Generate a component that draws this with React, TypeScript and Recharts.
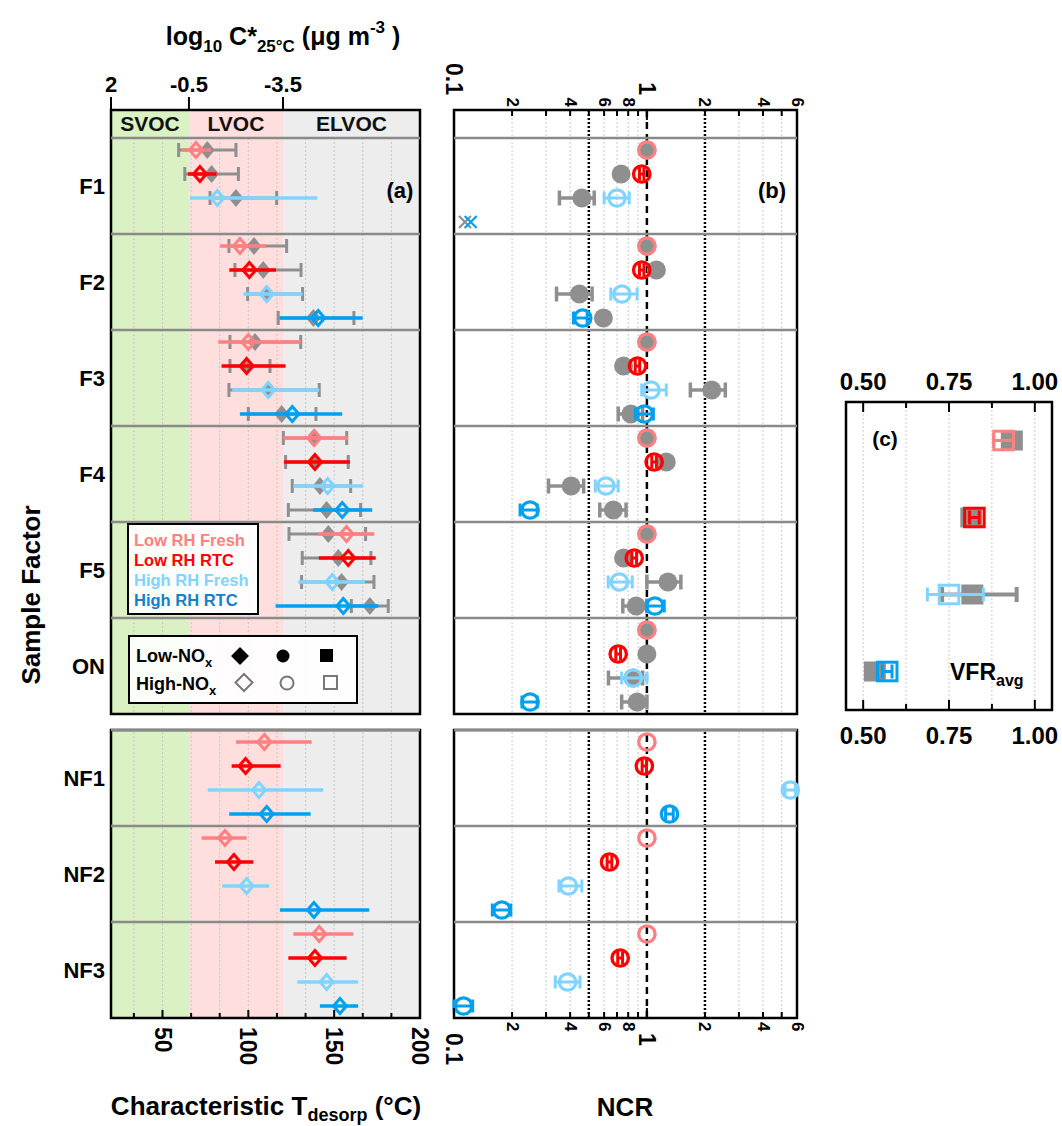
import React from 'react';
import { ComposedChart, Scatter, XAxis, YAxis, ReferenceArea, ReferenceLine, ErrorBar } from 'recharts';

const FONT = "'Liberation Sans', Arial, Helvetica, sans-serif";
const GRAY = '#8F8F8F';
const SEP = '#8A8A8A';
const GRID = '#C8C8C8';

type Trip = [number, number, number] | null; // [center, low, high]

// ---------- categories ----------
const rowLabelsTop = ['F1', 'F2', 'F3', 'F4', 'F5', 'ON'];
const rowLabelsBottom = ['NF1', 'NF2', 'NF3'];
const conditionLabels = ['Low RH Fresh', 'Low RH RTC', 'High RH Fresh', 'High RH RTC'];
const conditionColors = ['#FF8080', '#FF0000', '#80D4FF', '#00A0F0'];
const legendTextColors = ['#FF8080', '#FF0000', '#80D4FF', '#1580CC'];

// ---------- panel (a): characteristic T desorp (°C), rows F1..F5, ON, NF1..NF3 ----------
const tdLowRHFresh: Trip[] = [[69.5, 61.5, 78.2], [95.1, 83.5, 110.1], [100, 82.5, 130.5], [138.4, 120.4, 158.2], [157.2, 140.7, 173.4], null, [109.3, 92.8, 136.9], [86.4, 72.8, 99], [141.3, 126.2, 161.1]];
const tdLowRHRTC: Trip[] = [[71.8, 64.8, 81.5], [100.6, 88.9, 116.1], [99, 84.4, 121.7], [138.8, 120.8, 159.2], [158.2, 141.1, 174.2], null, [98.4, 90.3, 118.8], [91.6, 80.6, 102.9], [138.8, 123.3, 157.3]];
const tdHighRHFresh: Trip[] = [[81.9, 66, 140.2], [110.7, 97.1, 131.6], [111.6, 90.6, 141.3], [146.2, 126.2, 166.9], [148.9, 129.1, 167.9], null, [106.2, 76.3, 143.6], [99, 84.8, 112.2], [145.6, 128.5, 164]];
const tdHighRHRTC: Trip[] = [null, [140.7, 118.4, 166.6], [125.6, 95.1, 154.7], [154.7, 137.8, 172.2], [155.3, 115.9, 175.7], null, [110.7, 88.9, 136.3], [138.2, 118.4, 170.4], [153.4, 141.7, 164]];
// gray (filled) counterparts, rows F1..F5, ON
const tdGrayLowRHFresh: Trip[] = [[76.1, 59.4, 92.8], [103.3, 88.7, 122.3], [103.9, 89.3, 130.5], [138, 120.4, 157.3], [146.6, 123.7, 168.3], null];
const tdGrayLowRHRTC: Trip[] = [[78.6, 63, 94.2], [108.7, 92.2, 130.7], [99, 89.3, 112.6], [138.8, 121.7, 158.2], [152.4, 131.4, 171.4], null];
const tdGrayHighRHFresh: Trip[] = [[92.8, 77.7, 116.5], [110.7, 99.6, 131.6], [111.6, 88.7, 141.3], [141.7, 125.6, 159.6], [154.3, 131, 173.2], null];
const tdGrayHighRHRTC: Trip[] = [null, [137.9, 117.4, 161.5], [119.4, 100, 139.4], [145.6, 123.3, 165.4], [170.8, 160, 181.5], null];

const volatilityClasses = ['SVOC', 'LVOC', 'ELVOC'];
const volatilityBounds = [20, 65.4, 120.2, 200];
const volatilityFills = ['#DAF1C3', '#FFDEDE', '#EDEDED'];
const logCStarTickPos = [20, 65.4, 120.2];
const logCStarTickLabels = ['2', '-0.5', '-3.5'];
const tdGridTicks = [33.33, 50, 66.67, 83.33, 100, 116.67, 133.33, 150, 166.67, 183.33];
const tdMajorTicks = [50, 100, 150, 200];
const tdBottomTicks = [33.33, 50, 66.67, 83.33, 100, 116.67, 133.33, 150, 166.67, 183.33, 200];

// ---------- panel (b): NCR ----------
const ncrLowRHFresh: Trip[] = [[1, 1, 1], [1, 1, 1], [1, 1, 1], [1, 1, 1], [1, 1, 1], [1, 1, 1], [1, 1, 1], [1, 1, 1], [1, 1, 1]];
const ncrLowRHRTC: Trip[] = [[0.94, 0.915, 0.965], [0.94, 0.915, 0.965], [0.894, 0.87, 0.918], [1.09, 1.06, 1.12], [0.86, 0.836, 0.884], [0.71, 0.69, 0.73], [0.97, 0.945, 0.995], [0.64, 0.622, 0.658], [0.727, 0.706, 0.748]];
const ncrHighRHFresh: Trip[] = [[0.7, 0.6, 0.81], [0.742, 0.65, 0.89], [1.05, 0.94, 1.26], [0.613, 0.54, 0.71], [0.72, 0.63, 0.84], [0.85, 0.74, 1.0], [5.54, 5.2, 5.9], [0.392, 0.35, 0.46], [0.388, 0.335, 0.45]];
const ncrHighRHRTC: Trip[] = [null, [0.465, 0.416, 0.49], [0.97, 0.87, 1.08], [0.248, 0.22, 0.27], [1.1, 1.0, 1.23], [0.248, 0.225, 0.27], [1.31, 1.25, 1.37], [0.177, 0.158, 0.197], [0.112, 0.1, 0.125]];
const ncrGrayLowRHFresh: Trip[] = [[1, 1, 1], [1, 1, 1], [1, 1, 1], [1, 1, 1], [1, 1, 1], [1, 1, 1]];
const ncrGrayLowRHRTC: Trip[] = [[0.735, 0.735, 0.735], [1.12, 1.12, 1.12], [0.757, 0.757, 0.757], [1.26, 1.26, 1.26], [0.757, 0.757, 0.757], [1.0, 1.0, 1.0]];
const ncrGrayHighRHFresh: Trip[] = [[0.46, 0.352, 0.533], [0.447, 0.34, 0.52], [2.17, 1.68, 2.55], [0.405, 0.309, 0.47], [1.285, 1.0, 1.5], [0.846, 0.632, 0.95]];
const ncrGrayHighRHRTC: Trip[] = [null, [0.595, 0.595, 0.595], [0.826, 0.71, 0.95], [0.67, 0.57, 0.78], [0.88, 0.75, 1.0], [0.89, 0.74, 1.0]];
const ncrOffscaleGrayF1 = [0.114];
const ncrOffscaleBlueF1 = [0.122];

const ncrTicks = [0.1, 0.2, 0.3, 0.4, 0.5, 0.6, 0.7, 0.8, 0.9, 1, 2, 3, 4, 5, 6];
const ncrTickLabels = ['0.1', '2', '', '4', '', '6', '', '8', '', '1', '2', '', '4', '', '6'];
const ncrBigTicks = [0.1, 1];
const ncrGridTicks = [0.2, 0.3, 0.4, 0.6, 0.7, 0.8, 0.9, 3, 4, 5];
const ncrDottedRefs = [0.5, 2];
const ncrDashedRef = 1;

// ---------- panel (c): VFR avg ----------
const vfrColored: Trip[] = [[0.909, 0.88, 0.938], [0.824, 0.81, 0.838], [0.75, 0.687, 0.85], [0.57, 0.556, 0.584]];
const vfrGray: Trip[] = [[0.933, 0.933, 0.933], [0.815, 0.815, 0.815], [0.818, 0.73, 0.947], [0.534, 0.534, 0.534]];
const vfrTicks = [0.5, 0.625, 0.75, 0.875, 1.0];
const vfrTickLabels = ['0.50', '', '0.75', '', '1.00'];

// ---------- layout helpers ----------
const HEADER_UNITS = 28 / 24;
const topYDomain: [number, number] = [-0.5 - HEADER_UNITS, 23.5];
const bottomYDomain: [number, number] = [-0.5, 11.5];
const topRowCenters = rowLabelsTop.map((_, r) => r * 4 + 1.5);
const bottomRowCenters = rowLabelsBottom.map((_, r) => r * 4 + 1.5);
const topSeparators = [-0.5, 3.5, 7.5, 11.5, 15.5, 19.5];
const bottomSeparators = [-0.5, 3.5, 7.5];

function buildPoints(vals: Trip[], slot: number, rowStart: number, rowCount: number) {
  const out: any[] = [];
  for (let r = 0; r < rowCount; r++) {
    const v = vals[rowStart + r];
    if (!v) continue;
    const [c, lo, hi] = v;
    out.push({ x: c, y: r * 4 + slot, err: hi - lo > 1e-9 ? [c - lo, hi - c] : null });
  }
  return out;
}

const tdColoredSeries = [tdLowRHFresh, tdLowRHRTC, tdHighRHFresh, tdHighRHRTC];
const tdGraySeries = [tdGrayLowRHFresh, tdGrayLowRHRTC, tdGrayHighRHFresh, tdGrayHighRHRTC];
const ncrColoredSeries = [ncrLowRHFresh, ncrLowRHRTC, ncrHighRHFresh, ncrHighRHRTC];
const ncrGraySeries = [ncrGrayLowRHFresh, ncrGrayLowRHRTC, ncrGrayHighRHFresh, ncrGrayHighRHRTC];

// ---------- shapes ----------
function diamondShape(fill: string, stroke: string, hw: number, hh: number, sw: number) {
  return (p: any) => {
    const { cx, cy } = p;
    if (cx == null || cy == null || isNaN(cx)) return <g />;
    return <polygon points={`${cx},${cy - hh} ${cx + hw},${cy} ${cx},${cy + hh} ${cx - hw},${cy}`} fill={fill} stroke={stroke} strokeWidth={sw} />;
  };
}
function circleShape(fill: string, stroke: string, r: number, sw: number) {
  return (p: any) => {
    const { cx, cy } = p;
    if (cx == null || cy == null || isNaN(cx)) return <g />;
    return <circle cx={cx} cy={cy} r={r} fill={fill} stroke={stroke} strokeWidth={sw} />;
  };
}
function squareShape(fill: string, stroke: string, hw: number, hh: number, sw: number) {
  return (p: any) => {
    const { cx, cy } = p;
    if (cx == null || cy == null || isNaN(cx)) return <g />;
    return <rect x={cx - hw} y={cy - hh} width={hw * 2} height={hh * 2} fill={fill} stroke={stroke} strokeWidth={sw} />;
  };
}
function crossShape(stroke: string, s: number, sw: number) {
  return (p: any) => {
    const { cx, cy } = p;
    if (cx == null || cy == null || isNaN(cx)) return <g />;
    return (
      <g>
        <line x1={cx - s} y1={cy - s} x2={cx + s} y2={cy + s} stroke={stroke} strokeWidth={sw} />
        <line x1={cx - s} y1={cy + s} x2={cx + s} y2={cy - s} stroke={stroke} strokeWidth={sw} />
      </g>
    );
  };
}

const near = (a: number, b: number) => Math.abs(a - b) < 1e-6;

// ---------- ticks ----------
const RowTick = (labels: string[], centers: number[]) => (p: any) => {
  const { x, y, payload } = p;
  const i = centers.findIndex((c) => near(c, payload.value));
  return (
    <text x={x - 6} y={y} textAnchor="end" dominantBaseline="central" fontFamily={FONT} fontWeight="bold" fontSize={22} fill="#000">
      {labels[i]}
    </text>
  );
};

const LogCStarTick = (p: any) => {
  const { x, y, payload } = p;
  const i = logCStarTickPos.findIndex((c) => near(c, payload.value));
  return (
    <g>
      <line x1={x} x2={x} y1={y} y2={y - 13} stroke="#000" strokeWidth={2} />
      <text x={x} y={y - 18} textAnchor="middle" fontFamily={FONT} fontWeight="bold" fontSize={22} fill="#000">
        {logCStarTickLabels[i]}
      </text>
    </g>
  );
};

const TdBottomTick = (p: any) => {
  const { x, y, payload } = p;
  const v = payload.value;
  const major = tdMajorTicks.some((m) => near(m, v));
  const ly = y + 9;
  return (
    <g>
      <line x1={x} x2={x} y1={y} y2={y - (major ? 8 : 5)} stroke="#000" strokeWidth={2} />
      {major && (
        <text x={x} y={ly} transform={`rotate(90 ${x} ${ly})`} textAnchor="start" dominantBaseline="central" fontFamily={FONT} fontWeight="bold" fontSize={23} fill="#000">
          {String(v)}
        </text>
      )}
    </g>
  );
};

const NcrTick = (side: 'top' | 'bottom') => (p: any) => {
  const { x, y, payload } = p;
  const v = payload.value;
  const i = ncrTicks.findIndex((t) => near(t, v));
  const big = ncrBigTicks.some((t) => near(t, v));
  const label = ncrTickLabels[i];
  const len = big ? 10 : 6;
  const dir = side === 'top' ? 1 : -1;
  const ly = side === 'top' ? y - (big ? 15 : 3) : y + (big ? 15 : 4);
  return (
    <g>
      <line x1={x} x2={x} y1={y} y2={y + dir * len} stroke="#000" strokeWidth={2} />
      {label && (
        <text x={x} y={ly} transform={`rotate(90 ${x} ${ly})`} textAnchor={side === 'top' ? 'end' : 'start'} dominantBaseline="central" fontFamily={FONT} fontWeight="bold" fontSize={big ? 23 : 17} fill="#000">
          {label}
        </text>
      )}
    </g>
  );
};

const VfrTick = (side: 'top' | 'bottom') => (p: any) => {
  const { x, y, payload } = p;
  const i = vfrTicks.findIndex((t) => near(t, payload.value));
  const label = vfrTickLabels[i];
  const len = label ? 10 : 6;
  const dir = side === 'top' ? 1 : -1;
  return (
    <g>
      <line x1={x} x2={x} y1={y} y2={y + dir * len} stroke="#000" strokeWidth={2} />
      {label && (
        <text x={x} y={side === 'top' ? y - 12 : y + 34} textAnchor="middle" fontFamily={FONT} fontWeight="bold" fontSize={24} fill="#000">
          {label}
        </text>
      )}
    </g>
  );
};

// ---------- series renderers ----------
const Z_GRAY = 600;
const Z_COLOR_BAR = 610;
const Z_COLOR = 620;

function tdSeries(rowStart: number, rowCount: number, withGray: boolean) {
  const els: any[] = [];
  if (withGray) {
    tdGraySeries.forEach((vals, i) => {
      els.push(
        <Scatter key={`tg${i}`} xAxisId="x" yAxisId="y" data={buildPoints(vals, i, 0, rowCount)} isAnimationActive={false} shape={diamondShape(GRAY, 'none', 7.5, 9, 0)} {...({ zIndex: Z_GRAY } as any)}>
          <ErrorBar dataKey="err" direction="x" width={7} stroke={GRAY} strokeWidth={3} />
        </Scatter>
      );
    });
  }
  tdColoredSeries.forEach((vals, i) => {
    els.push(
      <Scatter key={`tc${i}`} xAxisId="x" yAxisId="y" data={buildPoints(vals, i, rowStart, rowCount)} isAnimationActive={false} shape={diamondShape('none', conditionColors[i], 6.5, 7.5, 3)} {...({ zIndex: Z_COLOR } as any)}>
        <ErrorBar dataKey="err" direction="x" width={0} stroke={conditionColors[i]} strokeWidth={3.5} {...({ zIndex: Z_COLOR_BAR } as any)} />
      </Scatter>
    );
  });
  return els;
}

function ncrSeries(rowStart: number, rowCount: number, withGray: boolean) {
  const els: any[] = [];
  if (withGray) {
    ncrGraySeries.forEach((vals, i) => {
      els.push(
        <Scatter key={`ng${i}`} xAxisId="x" yAxisId="y" data={buildPoints(vals, i, 0, rowCount)} isAnimationActive={false} shape={circleShape(GRAY, 'none', 9.5, 0)} {...({ zIndex: Z_GRAY } as any)}>
          <ErrorBar dataKey="err" direction="x" width={7.5} stroke={GRAY} strokeWidth={3.5} />
        </Scatter>
      );
    });
    els.push(
      <Scatter key="xg" xAxisId="x" yAxisId="y" data={ncrOffscaleGrayF1.map((v) => ({ x: v, y: 3 }))} isAnimationActive={false} shape={crossShape(GRAY, 6, 2.2)} />
    );
    els.push(
      <Scatter key="xb" xAxisId="x" yAxisId="y" data={ncrOffscaleBlueF1.map((v) => ({ x: v, y: 3 }))} isAnimationActive={false} shape={crossShape(conditionColors[3], 6, 2.2)} />
    );
  }
  ncrColoredSeries.forEach((vals, i) => {
    els.push(
      <Scatter key={`nc${i}`} xAxisId="x" yAxisId="y" data={buildPoints(vals, i, rowStart, rowCount)} isAnimationActive={false} shape={circleShape('none', conditionColors[i], 8.2, 3.3)} {...({ zIndex: Z_COLOR } as any)}>
        <ErrorBar dataKey="err" direction="x" width={6.5} stroke={conditionColors[i]} strokeWidth={3} {...({ zIndex: Z_COLOR_BAR } as any)} />
      </Scatter>
    );
  });
  return els;
}

// ---------- panels ----------
function PanelATop() {
  return (
    <ComposedChart width={389} height={659} margin={{ top: 0, right: 10, bottom: 10, left: 0 }}>
      <XAxis xAxisId="x" orientation="top" type="number" dataKey="x" domain={[20, 200]} ticks={logCStarTickPos} interval={0} height={45} axisLine={false} tickLine={false} tickSize={0} tickMargin={0} tick={LogCStarTick} allowDataOverflow />
      <YAxis yAxisId="y" type="number" dataKey="y" domain={topYDomain} reversed ticks={topRowCenters} interval={0} width={70} axisLine={false} tickLine={false} tickSize={0} tickMargin={0} tick={RowTick(rowLabelsTop, topRowCenters)} allowDataOverflow />
      {volatilityClasses.map((c, i) => (
        <ReferenceArea key={`va${i}`} xAxisId="x" yAxisId="y" x1={volatilityBounds[i]} x2={volatilityBounds[i + 1]} y1={topYDomain[0]} y2={topYDomain[1]} fill={volatilityFills[i]} fillOpacity={1} stroke="none" />
      ))}
      {volatilityClasses.map((c, i) => (
        <ReferenceArea key={`vl${i}`} xAxisId="x" yAxisId="y" x1={volatilityBounds[i]} x2={volatilityBounds[i + 1]} y1={topYDomain[0]} y2={-0.5} fill="none" fillOpacity={0} stroke="none"
          label={{ value: c, position: 'center', fontSize: 21, fontWeight: 'bold', fill: '#111', fontFamily: FONT }} />
      ))}
      <ReferenceArea xAxisId="x" yAxisId="y" x1={20} x2={200} y1={topYDomain[0]} y2={topYDomain[1]} fill="none" fillOpacity={0} stroke="#000" strokeWidth={2.5} />
      {tdGridTicks.map((g) => (
        <ReferenceLine key={`g${g}`} xAxisId="x" yAxisId="y" segment={[{ x: g, y: -0.5 }, { x: g, y: 23.5 }]} stroke={GRID} strokeDasharray="2 2" strokeWidth={1} />
      ))}
      {topSeparators.map((s) => (
        <ReferenceLine key={`s${s}`} xAxisId="x" yAxisId="y" y={s} stroke={SEP} strokeWidth={2.5} />
      ))}
      {tdSeries(0, 6, true)}
    </ComposedChart>
  );
}

function PanelABottom() {
  return (
    <ComposedChart width={399} height={378} margin={{ top: 10, right: 20, bottom: 0, left: 0 }}>
      <XAxis xAxisId="x" orientation="bottom" type="number" dataKey="x" domain={[20, 200]} ticks={tdBottomTicks} interval={0} height={80} axisLine={false} tickLine={false} tickSize={0} tickMargin={0} tick={TdBottomTick} allowDataOverflow />
      <YAxis yAxisId="y" type="number" dataKey="y" domain={bottomYDomain} reversed ticks={bottomRowCenters} interval={0} width={70} axisLine={false} tickLine={false} tickSize={0} tickMargin={0} tick={RowTick(rowLabelsBottom, bottomRowCenters)} allowDataOverflow />
      {volatilityClasses.map((c, i) => (
        <ReferenceArea key={`va${i}`} xAxisId="x" yAxisId="y" x1={volatilityBounds[i]} x2={volatilityBounds[i + 1]} y1={bottomYDomain[0]} y2={bottomYDomain[1]} fill={volatilityFills[i]} fillOpacity={1} stroke="none" />
      ))}
      <ReferenceArea xAxisId="x" yAxisId="y" x1={20} x2={200} y1={bottomYDomain[0]} y2={bottomYDomain[1]} fill="none" fillOpacity={0} stroke="#000" strokeWidth={2.5} />
      {tdGridTicks.map((g) => (
        <ReferenceLine key={`g${g}`} xAxisId="x" yAxisId="y" x={g} stroke={GRID} strokeDasharray="2 2" strokeWidth={1} />
      ))}
      {bottomSeparators.map((s) => (
        <ReferenceLine key={`s${s}`} xAxisId="x" yAxisId="y" y={s} stroke={SEP} strokeWidth={2.5} />
      ))}
      {tdSeries(6, 3, false)}
    </ComposedChart>
  );
}

function ncrRefLines() {
  return [
    ...ncrGridTicks.map((g) => <ReferenceLine key={`g${g}`} xAxisId="x" yAxisId="y" x={g} stroke={GRID} strokeDasharray="2 2" strokeWidth={1} />),
    ...ncrDottedRefs.map((g) => <ReferenceLine key={`d${g}`} xAxisId="x" yAxisId="y" x={g} stroke="#000" strokeDasharray="2 2" strokeWidth={2.5} />),
    <ReferenceLine key="dash1" xAxisId="x" yAxisId="y" x={ncrDashedRef} stroke="#000" strokeDasharray="7 5" strokeWidth={2.5} />,
  ];
}

function PanelBTop() {
  return (
    <ComposedChart width={373} height={674} margin={{ top: 0, right: 10, bottom: 10, left: 20 }}>
      <XAxis xAxisId="x" orientation="top" type="number" scale="log" dataKey="x" domain={[0.1, 6]} ticks={ncrTicks} interval={0} height={60} axisLine={false} tickLine={false} tickSize={0} tickMargin={0} tick={NcrTick('top')} />
      <YAxis yAxisId="y" type="number" dataKey="y" domain={topYDomain} reversed hide />
      <ReferenceArea xAxisId="x" yAxisId="y" x1={0.1} x2={6} y1={topYDomain[0]} y2={topYDomain[1]} fill="none" fillOpacity={0} stroke="#000" strokeWidth={2.5} />
      {ncrRefLines()}
      {topSeparators.map((s) => (
        <ReferenceLine key={`s${s}`} xAxisId="x" yAxisId="y" y={s} stroke={SEP} strokeWidth={2.5} />
      ))}
      {ncrSeries(0, 6, true)}
    </ComposedChart>
  );
}

function PanelBBottom() {
  return (
    <ComposedChart width={373} height={378} margin={{ top: 10, right: 10, bottom: 0, left: 20 }}>
      <XAxis xAxisId="x" orientation="bottom" type="number" scale="log" dataKey="x" domain={[0.1, 6]} ticks={ncrTicks} interval={0} height={80} axisLine={false} tickLine={false} tickSize={0} tickMargin={0} tick={NcrTick('bottom')} />
      <YAxis yAxisId="y" type="number" dataKey="y" domain={bottomYDomain} reversed hide />
      <ReferenceArea xAxisId="x" yAxisId="y" x1={0.1} x2={6} y1={bottomYDomain[0]} y2={bottomYDomain[1]} fill="none" fillOpacity={0} stroke="#000" strokeWidth={2.5} />
      {ncrRefLines()}
      {bottomSeparators.map((s) => (
        <ReferenceLine key={`s${s}`} xAxisId="x" yAxisId="y" y={s} stroke={SEP} strokeWidth={2.5} />
      ))}
      {ncrSeries(6, 3, false)}
    </ComposedChart>
  );
}

function PanelC() {
  const gray = vfrGray.map((v, i) => ({ x: v![0], y: i, err: v![2] - v![1] > 1e-9 ? [v![0] - v![1], v![2] - v![0]] : null }));
  return (
    <ComposedChart width={226} height={398} margin={{ top: 0, right: 10, bottom: 0, left: 10 }}>
      <XAxis xAxisId="x" orientation="top" type="number" dataKey="x" domain={[0.45, 1.05]} ticks={vfrTicks} interval={0} height={45} axisLine={false} tickLine={false} tickSize={0} tickMargin={0} tick={VfrTick('top')} allowDataOverflow />
      <XAxis xAxisId="b" orientation="bottom" type="number" dataKey="x" domain={[0.45, 1.05]} ticks={vfrTicks} interval={0} height={45} axisLine={false} tickLine={false} tickSize={0} tickMargin={0} tick={VfrTick('bottom')} allowDataOverflow />
      <YAxis yAxisId="y" type="number" dataKey="y" domain={[-0.5, 3.5]} reversed hide allowDataOverflow />
      {vfrTicks.map((g) => (
        <ReferenceLine key={`g${g}`} xAxisId="x" yAxisId="y" x={g} stroke={GRID} strokeDasharray="2 2" strokeWidth={1} />
      ))}
      <ReferenceArea xAxisId="x" yAxisId="y" x1={0.45} x2={1.05} y1={-0.5} y2={3.5} fill="none" fillOpacity={0} stroke="#000" strokeWidth={2.5} />
      <Scatter xAxisId="x" yAxisId="y" data={gray} isAnimationActive={false} shape={squareShape(GRAY, 'none', 11, 10, 0)} {...({ zIndex: Z_GRAY } as any)}>
        <ErrorBar dataKey="err" direction="x" width={7.5} stroke={GRAY} strokeWidth={4} />
      </Scatter>
      {vfrColored.map((v, i) => (
        <Scatter key={`vc${i}`} xAxisId="x" yAxisId="y" data={[{ x: v![0], y: i, err: [v![0] - v![1], v![2] - v![0]] }]} isAnimationActive={false} shape={squareShape('none', conditionColors[i], 9.8, 9.3, 3)} {...({ zIndex: Z_COLOR } as any)}>
          <ErrorBar dataKey="err" direction="x" width={7} stroke={conditionColors[i]} strokeWidth={3} {...({ zIndex: Z_COLOR_BAR } as any)} />
        </Scatter>
      ))}
    </ComposedChart>
  );
}

function Overlay() {
  const t = { fontFamily: FONT, fontWeight: 'bold' as const, fill: '#000' };
  return (
    <svg width={1062} height={1126} style={{ position: 'absolute', left: 0, top: 0, pointerEvents: 'none' }}>
      {/* top title */}
      <text x={283} y={45} textAnchor="middle" fontSize={25} {...t}>
        log<tspan fontSize={17} dy={7}>10</tspan>
        <tspan dy={-7}> C*</tspan>
        <tspan fontSize={17} dy={7}>25°C</tspan>
        <tspan dy={-7}> (μg m</tspan>
        <tspan fontSize={17} dy={-12}>-3</tspan>
        <tspan dy={12}> )</tspan>
      </text>
      {/* panel letters */}
      <text x={400} y={198} textAnchor="middle" fontSize={22} {...t}>(a)</text>
      <text x={772} y={198} textAnchor="middle" fontSize={22} {...t}>(b)</text>
      <text x={885} y={446} textAnchor="middle" fontSize={21} {...t}>(c)</text>
      <text x={950} y={680} fontSize={23} {...t}>
        VFR<tspan fontSize={16} dy={6}>avg</tspan>
      </text>
      {/* axis titles */}
      <text x={31} y={595} transform="rotate(-90 31 595)" textAnchor="middle" dominantBaseline="central" fontSize={26} {...t}>Sample Factor</text>
      <text x={266} y={1115} textAnchor="middle" fontSize={26} {...t}>
        Characteristic T<tspan fontSize={18} dy={6}>desorp</tspan>
        <tspan dy={-6}> (°C)</tspan>
      </text>
      <text x={625} y={1116} textAnchor="middle" fontSize={26} {...t}>NCR</text>
      {/* legend: conditions */}
      <rect x={128} y={524} width={130} height={90} fill="#fff" fillOpacity={0.92} stroke="#000" strokeWidth={2} />
      {conditionLabels.map((c, i) => (
        <text key={c} x={134} y={546 + i * 20} fontSize={16.5} fontFamily={FONT} fontWeight="bold" fill={legendTextColors[i]}>{c}</text>
      ))}
      {/* legend: NOx symbols */}
      <rect x={129} y={636} width={228} height={67} fill="#fff" fillOpacity={0.92} stroke="#000" strokeWidth={2} />
      <text x={136} y={662} fontSize={18} {...t}>
        Low-NO<tspan fontSize={13} dy={5}>x</tspan>
      </text>
      <text x={136} y={690} fontSize={18} {...t}>
        High-NO<tspan fontSize={13} dy={5}>x</tspan>
      </text>
      <polygon points="240,647 249,656 240,665 231,656" fill="#000" />
      <circle cx={283} cy={656} r={6.5} fill="#000" />
      <rect x={320} y={649} width={13} height={13} fill="#000" />
      <polygon points="244,674 252.5,682.5 244,691 235.5,682.5" fill="none" stroke="#777" strokeWidth={2} />
      <circle cx={287} cy={683} r={6.5} fill="none" stroke="#777" strokeWidth={2} />
      <rect x={324} y={676} width={13} height={13} fill="none" stroke="#777" strokeWidth={2} />
    </svg>
  );
}

export default function App() {
  return (
    <div style={{ position: 'absolute', left: 0, top: 0, width: 1062, height: 1126, background: '#fff', overflow: 'hidden' }}>
      <div style={{ position: 'absolute', left: 41, top: 65 }}><PanelATop /></div>
      <div style={{ position: 'absolute', left: 41, top: 720 }}><PanelABottom /></div>
      <div style={{ position: 'absolute', left: 434, top: 50 }}><PanelBTop /></div>
      <div style={{ position: 'absolute', left: 434, top: 720 }}><PanelBBottom /></div>
      <div style={{ position: 'absolute', left: 836, top: 357 }}><PanelC /></div>
      <Overlay />
    </div>
  );
}
